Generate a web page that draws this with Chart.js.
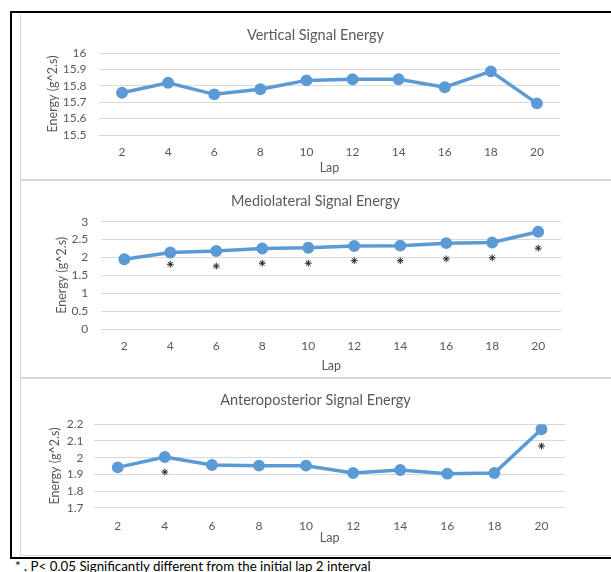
<!DOCTYPE html>
<html>
<head>
<meta charset="utf-8">
<script src="https://cdn.jsdelivr.net/npm/chart.js@4"></script>
<style>
  body { margin: 0; background: #fff; width: 611px; height: 572px; overflow: hidden; position: relative; font-family: Lato, "Liberation Sans", sans-serif; }
  #frame { position: absolute; left: 10px; top: 11px; width: 640px; height: 548px; box-sizing: border-box; border: 2px solid #000; border-right: none; }
  .panel { position: absolute; left: 20px; width: 640px; box-sizing: border-box; border: 1px solid #d9d9d9; border-right: none; }
  canvas { position: absolute; left: 20px; }
  #note { position: absolute; left: 15px; top: 559px; font-size: 13.3px; line-height: 15px; color: #000; white-space: nowrap; }
</style>
</head>
<body>
<div id="frame"></div>
<div class="panel" style="top:13px;height:167px;border-top:none"></div>
<div class="panel" style="top:180px;height:198px"></div>
<div class="panel" style="top:378px;height:178px"></div>
<canvas id="vertical" width="591" height="161" style="top:17px"></canvas>
<canvas id="medio" width="591" height="196" style="top:181px"></canvas>
<canvas id="antero" width="591" height="176" style="top:379px"></canvas>
<div id="note">* . P&lt; 0.05 Significantly different from the initial lap 2 interval</div>
<script>
const laps = ['2', '4', '6', '8', '10', '12', '14', '16', '18', '20'];

const verticalEnergy = [15.758, 15.819, 15.748, 15.779, 15.833, 15.840, 15.840, 15.791, 15.888, 15.693];

const medioEnergy = [1.95, 2.14, 2.18, 2.25, 2.27, 2.32, 2.33, 2.40, 2.42, 2.72];
const medioStars = [null, 1.81, 1.76, 1.84, 1.84, 1.91, 1.91, 1.96, 1.99, 2.26];

const anteroEnergy = [1.942, 2.004, 1.956, 1.952, 1.952, 1.908, 1.926, 1.904, 1.908, 2.17];
const anteroStars = [null, 1.914, null, null, null, null, null, null, null, 2.07];

const blue = '#5B9BD5';
const grey = '#595959';
const font = 'Lato, "Liberation Sans", sans-serif';

function makeChart(id, title, values, stars, yMin, yMax, yStep, opts) {
    const datasets = [{
        data: values,
        borderColor: blue,
        backgroundColor: blue,
        borderWidth: 3.5,
        pointRadius: 4.2,
        pointHoverRadius: 4.2,
        tension: 0
    }];
    if (stars) {
        datasets.push({
            data: stars,
            showLine: false,
            pointStyle: 'star',
            pointRadius: 3.4,
            borderColor: '#222',
            backgroundColor: '#222',
            borderWidth: 1
        });
    }
    new Chart(document.getElementById(id), {
        type: 'line',
        data: { labels: laps, datasets: datasets },
        options: {
            responsive: false,
            animation: false,
            plugins: {
                legend: { display: false },
                tooltip: { enabled: false },
                title: {
                    display: true,
                    text: title,
                    color: grey,
                    font: { family: font, size: 14.5, weight: 'normal' },
                    padding: { top: opts.titleTop, bottom: opts.titleBottom }
                }
            },
            scales: {
                x: {
                    offset: true,
                    grid: { display: false, drawTicks: false },
                    border: { display: false },
                    ticks: { color: grey, font: { family: font, size: 12 }, padding: opts.xTickPad, maxRotation: 0, autoSkip: false },
                    title: { display: true, text: 'Lap', color: grey, font: { family: font, size: 12.5 }, padding: { top: 0, bottom: opts.lapPad } },
                    afterFit: s => { s.height = opts.xHeight; }
                },
                y: {
                    min: yMin,
                    max: yMax,
                    grid: { color: '#d9d9d9', drawTicks: false, lineWidth: 1 },
                    border: { display: false },
                    ticks: {
                        stepSize: yStep,
                        autoSkip: false,
                        color: grey,
                        padding: opts.yTickPad,
                        font: { family: font, size: 12 },
                        callback: v => String(Math.round(v * 10) / 10)
                    },
                    title: { display: true, text: 'Energy (g^2.s)', color: grey, font: { family: font, size: 12.5 }, padding: { top: opts.yTitlePad, bottom: 0 } },
                    afterFit: s => { s.width = opts.yWidth; }
                },
                // empty right-hand gutter so the title stays centred like the original
                gutter: {
                    position: 'right',
                    grid: { display: false, drawTicks: false },
                    border: { display: false },
                    ticks: { display: false },
                    afterFit: s => { s.width = opts.gutter; }
                }
            }
        }
    });
}

makeChart('vertical', 'Vertical Signal Energy', verticalEnergy, null, 15.5, 16, 0.1,
    { gutter: 51, titleTop: 9.3, titleBottom: 9.3, xTickPad: 10, lapPad: 2.8, xHeight: 43,
      yTitlePad: 25.1, yWidth: 79, yTickPad: 12.5 });

makeChart('medio', 'Mediolateral Signal Energy', medioEnergy, medioStars, 0, 3, 0.5,
    { gutter: 49.8, titleTop: 12, titleBottom: 11.3, xTickPad: 10, lapPad: 3.1, xHeight: 48,
      yTitlePad: 34.5, yWidth: 81.3, yTickPad: 13 });

makeChart('antero', 'Anteroposterior Signal Energy', anteroEnergy, anteroStars, 1.7, 2.2, 0.1,
    { gutter: 46, titleTop: 12.3, titleBottom: 15.6, xTickPad: 11, lapPad: 9.8, xHeight: 47.3,
      yTitlePad: 27.8, yWidth: 74.2, yTickPad: 10.7 });
</script>
</body>
</html>
